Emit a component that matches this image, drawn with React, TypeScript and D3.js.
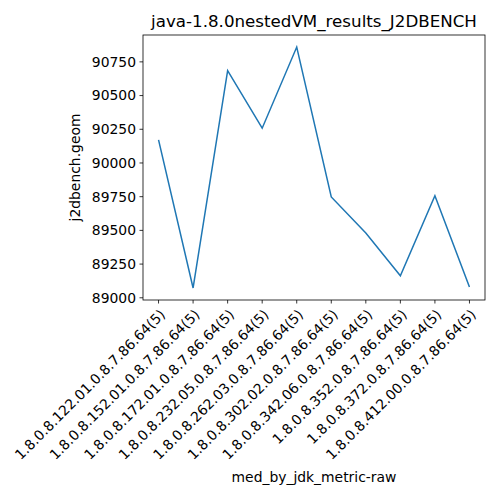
import * as d3 from 'd3';
import React from 'react';

const labels = [
  '1.8.0.8.122.01.0.8.7.86.64(5)',
  '1.8.0.8.152.01.0.8.7.86.64(5)',
  '1.8.0.8.172.01.0.8.7.86.64(5)',
  '1.8.0.8.232.05.0.8.7.86.64(5)',
  '1.8.0.8.262.03.0.8.7.86.64(5)',
  '1.8.0.8.302.02.0.8.7.86.64(5)',
  '1.8.0.8.342.06.0.8.7.86.64(5)',
  '1.8.0.8.352.0.8.7.86.64(5)',
  '1.8.0.8.372.0.8.7.86.64(5)',
  '1.8.0.8.412.00.0.8.7.86.64(5)',
];
const values = [90172, 89073, 90685, 90258, 90860, 89748, 89480, 89163, 89757, 89080];
const yTicks = [89000, 89250, 89500, 89750, 90000, 90250, 90500, 90750];

export default function App() {
  const left = 143, right = 485, top = 35, bottom = 300;
  const n = values.length;
  const pad = (n - 1) * 0.05;
  const x = d3.scaleLinear().domain([-pad, n - 1 + pad]).range([left, right]);
  const [mn, mx] = d3.extent(values) as [number, number];
  const yp = (mx - mn) * 0.05;
  const y = d3.scaleLinear().domain([mn - yp, mx + yp]).range([bottom, top]);
  const line = d3.line<number>().x((_, i) => x(i)).y(d => y(d));
  const font = 'DejaVu Sans';
  return (
    <svg width={500} height={500} style={{ position: 'absolute', left: 0, top: 0 }} fontFamily={font}>
      <rect width={500} height={500} fill="white" />
      <path d={line(values) || ''} fill="none" stroke="#1f77b4" strokeWidth={1.5} />
      <rect x={left} y={top} width={right - left} height={bottom - top} fill="none" stroke="black" strokeWidth={0.8} />
      {yTicks.map(t => (
        <g key={t} transform={`translate(${left},${y(t)})`}>
          <line x1={-3.5} x2={0} stroke="black" strokeWidth={0.8} />
          <text x={-7} dy="0.35em" textAnchor="end" fontSize={13.9}>{t}</text>
        </g>
      ))}
      {labels.map((l, i) => (
        <g key={l} transform={`translate(${x(i)},${bottom})`}>
          <line y2={3.5} stroke="black" strokeWidth={0.8} />
          <text transform="translate(4,12) rotate(-45)" textAnchor="end" dy="0.35em" fontSize={13.9}>{l}</text>
        </g>
      ))}
      <text x={(left + right) / 2} y={27} textAnchor="middle" fontSize={16.7}>java-1.8.0nestedVM_results_J2DBENCH</text>
      <text x={(left + right) / 2} y={482} textAnchor="middle" fontSize={13.9}>med_by_jdk_metric-raw</text>
      <text transform={`translate(80,${(top + bottom) / 2}) rotate(-90)`} textAnchor="middle" fontSize={13.9}>j2dbench.geom</text>
    </svg>
  );
}
